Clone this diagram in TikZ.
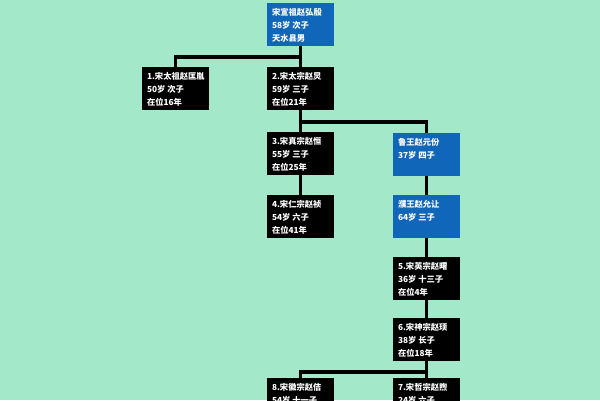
\documentclass[tikz,border=0pt]{standalone}
\usepackage{fontspec}
\setmainfont{Noto Sans CJK SC}
\definecolor{bgmint}{RGB}{163,232,200}
\definecolor{boxblue}{RGB}{16,102,184}
\newcommand\boxtxt[1]{\parbox[t][33pt][t]{57pt}{\fontsize{8.3}{13}\selectfont\bfseries #1}}
\tikzset{
  x=1pt,y=-1pt,
  person/.style={anchor=north west,fill=black,text=white,inner sep=5pt,outer sep=0pt},
  bluebox/.style={person,fill=boxblue},
  conn/.style={line width=3.8pt,draw=black}
}
\begin{document}
\begin{tikzpicture}
\useasboundingbox (0,0) rectangle (600,400);
\clip (0,0) rectangle (600,400);
\fill[bgmint] (0,0) rectangle (600,400);
\coordinate (y1) at (0,57);
\coordinate (y2) at (0,122);
\coordinate (y3) at (0,372);
% nodes
\node[bluebox] (top) at (267,3) {\boxtxt{宋宣祖赵弘殷\\58岁 次子\\天水县男}};
\node[person] (b1) at (142,67) {\boxtxt{1.宋太祖赵匡胤\\50岁 次子\\在位16年}};
\node[person] (b2) at (267,67) {\boxtxt{2.宋太宗赵炅\\59岁 三子\\在位21年}};
\node[person] (b3) at (267,132) {\boxtxt{3.宋真宗赵恒\\55岁 三子\\在位25年}};
\node[person] (b4) at (267,195) {\boxtxt{4.宋仁宗赵祯\\54岁 六子\\在位41年}};
\node[bluebox] (lu) at (393,133) {\boxtxt{鲁王赵元份\\37岁 四子}};
\node[bluebox] (pu) at (393,195) {\boxtxt{濮王赵允让\\64岁 三子}};
\node[person] (b5) at (393,257) {\boxtxt{5.宋英宗赵曙\\36岁 十三子\\在位4年}};
\node[person] (b6) at (393,318) {\boxtxt{6.宋神宗赵顼\\38岁 长子\\在位18年}};
\node[person] (b8) at (267,378) {\boxtxt{8.宋徽宗赵佶\\54岁 十一子}};
\node[person] (b7) at (393,378) {\boxtxt{7.宋哲宗赵煦\\24岁 六子}};
% connectors
\draw[conn] (top.south) -- (b2.north);
\draw[conn] (top.south |- y1) -| (b1.north);
\draw[conn] (b2.south) -- (b3.north);
\draw[conn] (b2.south |- y2) -| (lu.north);
\draw[conn] (b3.south) -- (b4.north);
\draw[conn] (lu.south) -- (pu.north);
\draw[conn] (pu.south) -- (b5.north);
\draw[conn] (b5.south) -- (b6.north);
\draw[conn] (b6.south) -- (b7.north);
\draw[conn] (b6.south |- y3) -| (b8.north);
\end{tikzpicture}
\end{document}
